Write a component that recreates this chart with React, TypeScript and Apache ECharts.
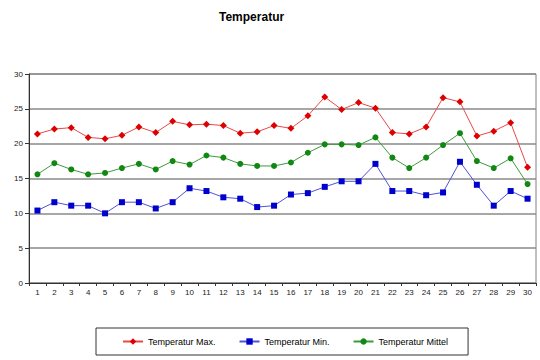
import React, { useEffect, useRef } from "react";
import * as echarts from "echarts";

const days = Array.from({ length: 30 }, (_, i) => String(i + 1));
const tempMax = [21.4, 22.1, 22.3, 20.9, 20.7, 21.2, 22.4, 21.6, 23.2, 22.7, 22.8, 22.6, 21.5, 21.7, 22.6, 22.2, 24.0, 26.7, 24.9, 25.9, 25.1, 21.6, 21.4, 22.4, 26.6, 26.0, 21.1, 21.8, 23.0, 16.6];
const tempMin = [10.4, 11.6, 11.1, 11.1, 10.0, 11.6, 11.6, 10.7, 11.6, 13.6, 13.2, 12.3, 12.1, 10.9, 11.1, 12.7, 12.9, 13.8, 14.6, 14.6, 17.1, 13.2, 13.2, 12.6, 13.0, 17.4, 14.1, 11.1, 13.2, 12.1];
const tempMittel = [15.6, 17.2, 16.3, 15.6, 15.8, 16.5, 17.1, 16.3, 17.5, 17.0, 18.3, 18.0, 17.1, 16.8, 16.8, 17.3, 18.7, 19.9, 19.9, 19.8, 20.9, 18.0, 16.5, 18.0, 19.8, 21.5, 17.5, 16.5, 17.9, 14.2];

const FONT = "'Liberation Sans', Arial, sans-serif";

export default function App() {
  const ref = useRef<HTMLDivElement>(null);
  useEffect(() => {
    if (!ref.current) return;
    const chart = echarts.init(ref.current, undefined, { renderer: "svg" });
    chart.setOption({
      animation: false,
      backgroundColor: "#fff",
      textStyle: { fontFamily: FONT },
      title: {
        text: "Temperatur",
        left: 219,
        top: 11,
        padding: 0,
        textStyle: { fontSize: 12, fontWeight: "bold", color: "#000", fontFamily: FONT },
      },
      legend: {
        left: 96,
        top: 328,
        padding: [9, 20, 9, 26],
        itemGap: 23,
        itemWidth: 20,
        itemHeight: 8,
        borderColor: "#333",
        borderWidth: 1,
        textStyle: { fontSize: 9, color: "#000", fontFamily: FONT },
      },
      grid: {
        left: 29,
        right: 4,
        top: 74,
        bottom: 77,
        show: true,
        borderColor: "#808080",
        borderWidth: 1,
      },
      xAxis: {
        type: "category",
        data: days,
        boundaryGap: true,
        axisLine: { lineStyle: { color: "#333", width: 1 } },
        axisTick: { show: true, interval: 0, length: 3, lineStyle: { color: "#333" } },
        axisLabel: { interval: 0, fontSize: 8, color: "#222", margin: 5, fontFamily: FONT },
        splitLine: { show: false },
      },
      yAxis: {
        type: "value",
        min: 0,
        max: 30,
        interval: 5,
        axisLine: { show: true, lineStyle: { color: "#333", width: 1 } },
        axisTick: { show: true, length: 4, lineStyle: { color: "#333" } },
        axisLabel: { fontSize: 8, color: "#222", margin: 6, fontFamily: FONT },
        splitLine: { show: true, lineStyle: { color: "#8a8a8a", width: 1.5 } },
      },
      series: [
        {
          name: "Temperatur Max.",
          type: "line",
          data: tempMax,
          symbol: "diamond",
          symbolSize: 7,
          itemStyle: { color: "#dd0000" },
          lineStyle: { color: "#e84848", width: 1 },
        },
        {
          name: "Temperatur Min.",
          type: "line",
          data: tempMin,
          symbol: "rect",
          symbolSize: 6,
          itemStyle: { color: "#0000cc" },
          lineStyle: { color: "#5050d8", width: 1 },
        },
        {
          name: "Temperatur Mittel",
          type: "line",
          data: tempMittel,
          symbol: "circle",
          symbolSize: 6,
          itemStyle: { color: "#118811" },
          lineStyle: { color: "#3c9a3c", width: 1 },
        },
      ],
    });
    return () => chart.dispose();
  }, []);
  return <div ref={ref} style={{ width: 540, height: 360, position: "fixed", left: 0, top: 0 }} />;
}
